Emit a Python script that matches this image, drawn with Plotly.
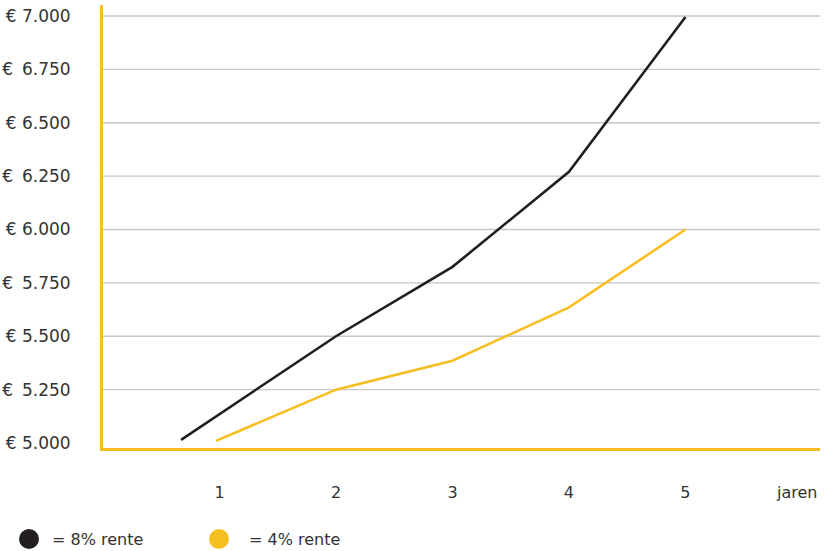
import plotly.graph_objects as go

# ---- data ----
series_names = ["= 8% rente", "= 4% rente"]
years_8 = [0.67, 2, 3, 4, 5]
values_8 = [5015, 5500, 5825, 6270, 6995]
years_4 = [0.97, 2, 3, 4, 5]
values_4 = [5010, 5250, 5385, 5635, 6000]

x_ticks = [1, 2, 3, 4, 5]
x_tick_labels = ["1", "2", "3", "4", "5"]
x_axis_title = "jaren"
y_ticks = [5000, 5250, 5500, 5750, 6000, 6250, 6500, 6750, 7000]
y_tick_labels = ["€ 5.000", "€\u00a0\u20095.250", "€ 5.500", "€\u00a0\u20095.750", "€ 6.000",
                 "€\u00a0\u20096.250", "€ 6.500", "€\u00a0\u20096.750", "€ 7.000"]

BLACK = "#231F20"
YELLOW = "#F6BE1E"
GRID = "#C8C8C8"
TEXT = "#333333"
FONT = "DejaVu Sans"
FS = 16

fig = go.Figure()
fig.add_trace(go.Scatter(x=years_8, y=values_8, mode="lines", name=series_names[0],
                         line=dict(color=BLACK, width=2.6), showlegend=False))
fig.add_trace(go.Scatter(x=years_4, y=values_4, mode="lines", name=series_names[1],
                         line=dict(color=YELLOW, width=2.6), showlegend=False))

# gridlines (not at the baseline)
for v in y_ticks[1:]:
    fig.add_shape(type="line", xref="paper", yref="y", x0=0, x1=1, y0=v, y1=v,
                  line=dict(color=GRID, width=1.3), layer="below")

# custom legend
leg_x = [29, 219]
leg_text_x = [50, 247]
for i, (name, col) in enumerate(zip(series_names, [BLACK, YELLOW])):
    cx = leg_x[i]
    fig.add_shape(type="circle", xref="paper", yref="paper",
                  x0=(cx - 10 - 103) / 717, x1=(cx + 10 - 103) / 717,
                  y0=-(539 - 448 + 10) / 443, y1=-(539 - 448 - 10) / 443,
                  fillcolor=col, line=dict(width=0))
    fig.add_annotation(xref="paper", yref="paper", x=(leg_text_x[i] - 103) / 717,
                       y=-(539 - 448) / 443, text=name, showarrow=False,
                       xanchor="left", yanchor="middle",
                       font=dict(family=FONT, size=FS, color=TEXT))

fig.add_annotation(xref="x", yref="paper", x=5.95, y=-(492 - 448) / 443,
                   text=x_axis_title, showarrow=False, xanchor="center", yanchor="middle",
                   font=dict(family=FONT, size=FS, color=TEXT))

fig.update_layout(
    width=826, height=551,
    margin=dict(l=103, r=6, t=5, b=103, autoexpand=False),
    paper_bgcolor="white", plot_bgcolor="white",
    font=dict(family=FONT, size=FS, color=TEXT),
    xaxis=dict(range=[0, 6.155], tickvals=x_ticks, ticktext=x_tick_labels,
               showgrid=False, zeroline=False, showline=True, linecolor=YELLOW,
               linewidth=3, ticks="", ticklabelstandoff=28, automargin=False,
               tickfont=dict(family=FONT, size=FS, color=TEXT), fixedrange=True),
    yaxis=dict(range=[4976.6, 7051.5], tickvals=y_ticks, ticktext=y_tick_labels,
               showgrid=False, zeroline=False, showline=True, linecolor=YELLOW,
               linewidth=3, ticks="", ticklabelstandoff=26, automargin=False,
               tickfont=dict(family=FONT, size=17, color=TEXT), fixedrange=True),
)

fig.write_html("out.html", config={"displayModeBar": False},
               post_script="document.body.style.margin='0';")
